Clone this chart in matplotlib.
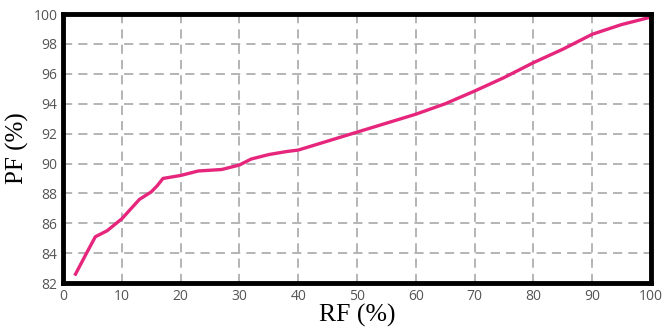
import numpy as np
import matplotlib.pyplot as plt

# RF vs PF curve
rf = [2, 4, 5.5, 7.5, 10, 13, 15, 16, 17, 20, 23, 27, 30, 32, 35, 38, 40,
      45, 50, 55, 60, 65, 70, 75, 80, 85, 90, 95, 100]
pf = [82.5, 84.0, 85.1, 85.5, 86.3, 87.6, 88.1, 88.5, 89.0, 89.2, 89.5, 89.6,
      89.9, 90.3, 90.6, 90.8, 90.9, 91.5, 92.1, 92.7, 93.3, 94.0, 94.85, 95.75,
      96.75, 97.65, 98.65, 99.3, 99.8]
xticks = np.arange(0, 101, 10)
yticks = np.arange(82, 101, 2)

fig = plt.figure(figsize=(6.63, 3.35), dpi=100)
ax = fig.add_axes([0.095, 0.155, 0.887, 0.803])
ax.plot(rf, pf, color='#e6267c', lw=2.4, solid_capstyle='butt')
ax.set_xlim(0, 100)
ax.set_ylim(82, 100)
ax.set_xticks(xticks)
ax.set_yticks(yticks)
ax.grid(True, ls=(0, (6, 4)), color='#a0a0a0', lw=1.1)
for s in ax.spines.values():
    s.set_linewidth(3.5)
    s.set_color('black')
ax.tick_params(length=0, pad=4, labelsize=10, labelcolor='#555555')
for t in ax.get_xticklabels() + ax.get_yticklabels():
    t.set_fontfamily('Open Sans')
ax.set_xlabel('RF (%)', fontfamily='Liberation Serif', fontsize=18.5, labelpad=0)
ax.set_ylabel('PF (%)', fontfamily='Liberation Serif', fontsize=18, labelpad=3)
plt.savefig('out.png', dpi=100)
